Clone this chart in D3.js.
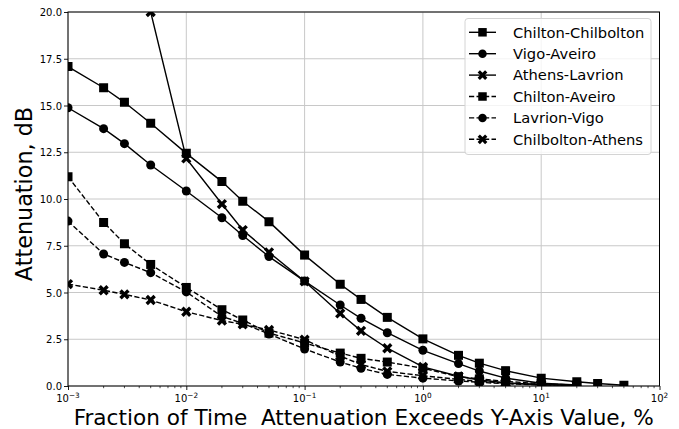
<!DOCTYPE html>
<html>
<head>
<meta charset="utf-8">
<script src="https://cdn.jsdelivr.net/npm/d3@7"></script>
<style>
html, body { margin: 0; padding: 0; background: #fff; }
svg { display: block; font-family: "DejaVu Sans", sans-serif; }
</style>
</head>
<body>
<svg id="chart" width="679" height="429"></svg>
<script>
// ---- data ----
const xValues = [0.001, 0.002, 0.003, 0.005, 0.01, 0.02, 0.03, 0.05, 0.1, 0.2, 0.3, 0.5, 1, 2, 3, 5, 10, 20, 30, 50];
const seriesNames = ["Chilton-Chilbolton", "Vigo-Aveiro", "Athens-Lavrion", "Chilton-Aveiro", "Lavrion-Vigo", "Chilbolton-Athens"];
const chiltonChilbolton = [17.08, 15.95, 15.17, 14.05, 12.44, 10.93, 9.88, 8.79, 7.0, 5.44, 4.63, 3.67, 2.52, 1.64, 1.22, 0.82, 0.42, 0.23, 0.13, 0.04];
const vigoAveiro = [14.88, 13.76, 12.96, 11.82, 10.43, 9.0, 8.05, 6.92, 5.61, 4.33, 3.62, 2.85, 1.91, 1.2, 0.8, 0.42, 0.15, 0.06, null, null];
const athensLavrion = [null, null, null, 20.0, 12.17, 9.73, 8.34, 7.15, 5.6, 3.88, 2.95, 2.02, 1.02, 0.52, 0.32, 0.17, 0.07, 0.03, null, null];
const chiltonAveiro = [11.19, 8.75, 7.61, 6.5, 5.27, 4.08, 3.53, 2.83, 2.3, 1.76, 1.48, 1.28, 0.95, 0.5, 0.38, 0.25, 0.12, 0.05, null, null];
const lavrionVigo = [8.82, 7.06, 6.61, 6.06, 5.03, 3.72, 3.35, 2.78, 1.98, 1.28, 0.95, 0.62, 0.42, 0.27, 0.2, 0.12, 0.06, 0.03, null, null];
const chilboltonAthens = [5.45, 5.12, 4.9, 4.6, 3.97, 3.5, 3.3, 3.0, 2.48, 1.6, 1.15, 0.78, 0.55, 0.35, 0.25, 0.15, 0.08, 0.04, null, null];
const seriesValues = [chiltonChilbolton, vigoAveiro, athensLavrion, chiltonAveiro, lavrionVigo, chilboltonAthens];
const seriesMarkers = ["square", "circle", "x", "square", "circle", "x"];
const seriesDashed = [false, false, false, true, true, true];
const yTicks = [0, 2.5, 5, 7.5, 10, 12.5, 15, 17.5, 20];
const xTickExps = [-3, -2, -1, 0, 1, 2];
const xLabel = "Fraction of Time  Attenuation Exceeds Y-Axis Value, %";
const yLabel = "Attenuation, dB";

// ---- layout ----
const L = 68, R = 659.5, T = 12, B = 386;
const svg = d3.select("#chart");
const x = d3.scaleLog().domain([1e-3, 1e2]).range([L, R]);
const y = d3.scaleLinear().domain([0, 20]).range([B, T]);

svg.append("defs").append("clipPath").attr("id", "clip")
  .append("rect").attr("x", L).attr("y", T).attr("width", R - L).attr("height", B - T);

// grid
const grid = svg.append("g");
grid.selectAll("line.gx").data(xTickExps).enter().append("line")
  .attr("x1", d => x(Math.pow(10, d))).attr("x2", d => x(Math.pow(10, d)))
  .attr("y1", T).attr("y2", B).attr("stroke", "#c8c8c8").attr("stroke-width", 1);
grid.selectAll("line.gy").data(yTicks).enter().append("line")
  .attr("x1", L).attr("x2", R).attr("y1", d => y(d)).attr("y2", d => y(d))
  .attr("stroke", "#c8c8c8").attr("stroke-width", 1);

// axes
const xAxis = d3.axisBottom(x).tickValues(xTickExps.map(e => Math.pow(10, e))).tickSize(4).tickFormat("");
const gx = svg.append("g").attr("transform", `translate(0,${B})`).call(xAxis);
// minor ticks
const minor = [];
for (let e = -3; e < 2; e++) for (let m = 2; m <= 9; m++) minor.push(m * Math.pow(10, e));
gx.selectAll("line.minor").data(minor).enter().append("line")
  .attr("x1", d => x(d)).attr("x2", d => x(d)).attr("y1", 0).attr("y2", 2.2)
  .attr("stroke", "#000").attr("stroke-width", 0.7);
gx.select(".domain").remove();
gx.selectAll(".tick line").attr("stroke", "#000").attr("stroke-width", 0.9);
// x tick labels with superscripts
const xl = svg.append("g");
xTickExps.forEach(e => {
  const t = xl.append("text").attr("x", x(Math.pow(10, e))).attr("y", 402)
    .attr("text-anchor", "middle").attr("font-size", 10).attr("fill", "#000");
  t.append("tspan").text("10");
  t.append("tspan").attr("dy", -4.5).attr("font-size", 7.3).text(e < 0 ? "\u2212" + (-e) : String(e));
});

const yAxis = d3.axisLeft(y).tickValues(yTicks).tickSize(4).tickFormat(d3.format(".1f"));
const gy = svg.append("g").attr("transform", `translate(${L},0)`).call(yAxis);
gy.select(".domain").remove();
gy.selectAll(".tick line").attr("stroke", "#000").attr("stroke-width", 0.9);
gy.selectAll(".tick text").attr("font-size", 10).attr("font-family", "DejaVu Sans").attr("fill", "#000").attr("x", -6).attr("dy", "0.35em");

// marker path generator
function markerPath(type, s) {
  if (type === "square") return d3.symbol().type(d3.symbolSquare).size(s * s)();
  if (type === "circle") return d3.symbol().type(d3.symbolCircle).size(Math.PI * (s / 2) * (s / 2))();
  // filled X
  const r = s * 0.62, a = s * 0.19;
  const pts = [[-a, -r], [a, -r], [a, -a], [r, -a], [r, a], [a, a], [a, r], [-a, r], [-a, a], [-r, a], [-r, -a], [-a, -a]];
  const c = Math.SQRT1_2;
  return "M" + pts.map(([px, py]) => [(px - py) * c, (px + py) * c].map(v => v.toFixed(2)).join(",")).join("L") + "Z";
}

// series
const plot = svg.append("g").attr("clip-path", "url(#clip)");
const lineGen = d3.line().defined(d => d[1] != null).x(d => x(d[0])).y(d => y(d[1]));
seriesValues.forEach((vals, i) => {
  const pts = xValues.map((xv, j) => [xv, vals[j]]);
  plot.append("path").datum(pts).attr("d", lineGen)
    .attr("fill", "none").attr("stroke", "#000").attr("stroke-width", 1.4)
    .attr("stroke-dasharray", seriesDashed[i] ? "5.2,2.3" : null);
  plot.selectAll(null).data(pts.filter(d => d[1] != null)).enter().append("path")
    .attr("d", markerPath(seriesMarkers[i], 9))
    .attr("transform", d => `translate(${x(d[0])},${y(d[1])})`)
    .attr("fill", "#000");
});

// frame
svg.append("rect").attr("x", L).attr("y", T).attr("width", R - L).attr("height", B - T)
  .attr("fill", "none").attr("stroke", "#000").attr("stroke-width", 1);

// legend
const lg = svg.append("g");
lg.append("rect").attr("x", 465).attr("y", 18.5).attr("width", 186).attr("height", 136).attr("rx", 3)
  .attr("fill", "#fff").attr("fill-opacity", 0.8).attr("stroke", "#d4d4d4").attr("stroke-width", 1);
seriesNames.forEach((name, i) => {
  const cy = 32.3 + i * 21.4;
  lg.append("line").attr("x1", 469).attr("x2", 496).attr("y1", cy).attr("y2", cy)
    .attr("stroke", "#000").attr("stroke-width", 1.4)
    .attr("stroke-dasharray", seriesDashed[i] ? "5.2,2.3" : null);
  lg.append("path").attr("d", markerPath(seriesMarkers[i], 8.5)).attr("transform", `translate(482.5,${cy})`).attr("fill", "#000");
  lg.append("text").attr("x", 513).attr("y", cy).attr("dy", "0.36em").attr("font-size", 14.7).attr("fill", "#000").text(name);
});

// axis labels
svg.append("text").attr("x", (L + R) / 2).attr("y", 425).attr("text-anchor", "middle")
  .attr("font-size", 21.6).attr("fill", "#000").style("white-space", "pre").attr("xml:space", "preserve").text(xLabel);
svg.append("text").attr("transform", "translate(31.5,194) rotate(-90)").attr("text-anchor", "middle")
  .attr("font-size", 22.3).attr("fill", "#000").text(yLabel);
</script>
</body>
</html>
